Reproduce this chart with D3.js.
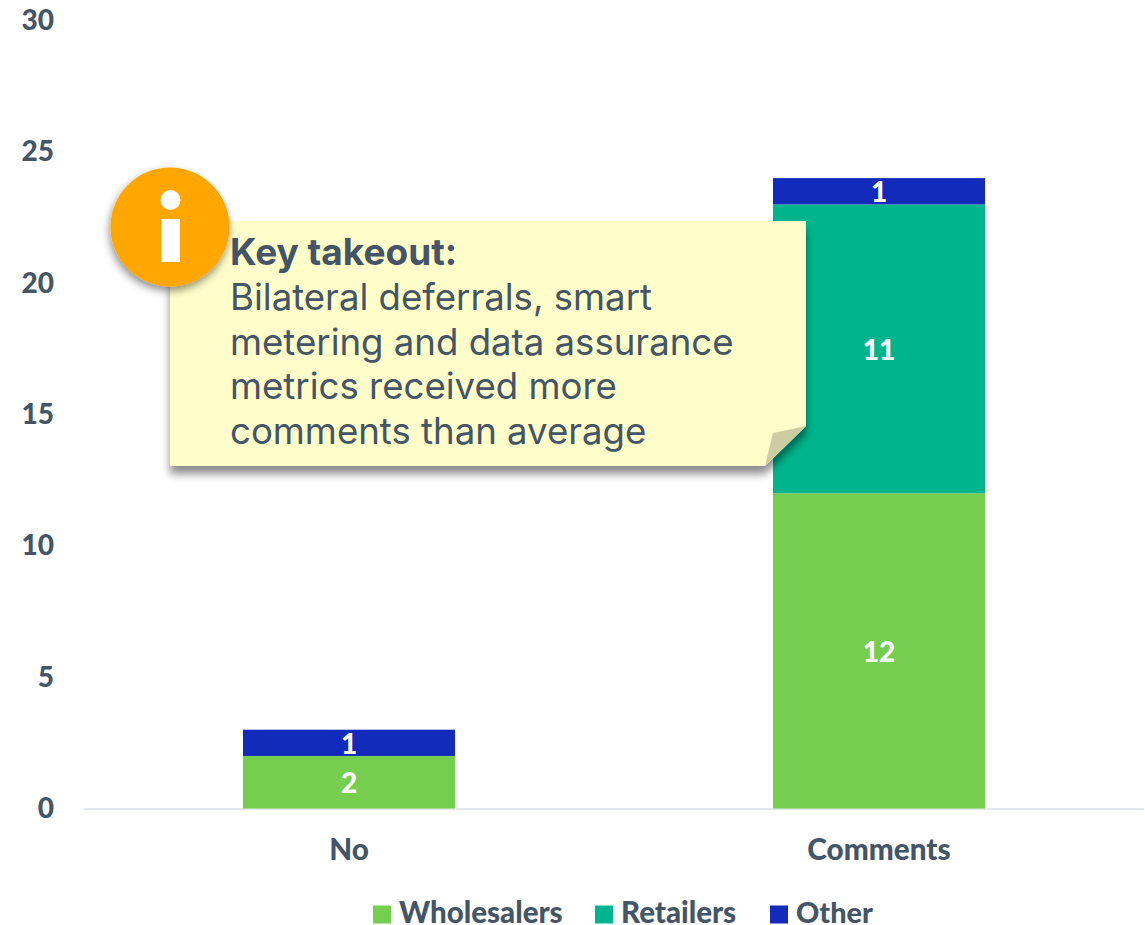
<!DOCTYPE html>
<html>
<head>
<meta charset="utf-8">
<script src="https://cdn.jsdelivr.net/npm/d3@7"></script>
<style>
html,body{margin:0;padding:0;background:#fff;overflow:hidden}
svg{display:block}
text{font-family:Lato,sans-serif}
</style>
</head>
<body>
<svg id="chart" width="1145" height="925"></svg>
<script>
const categories = ["No", "Comments"];
const seriesNames = ["Wholesalers", "Retailers", "Other"];
const wholesalers = [2, 12];
const retailers = [0, 11];
const other = [1, 1];
const yTicks = [0, 5, 10, 15, 20, 25, 30];
const calloutHeading = "Key takeout:";
const calloutLines = [
  "Bilateral deferrals, smart",
  "metering and data assurance",
  "metrics received more",
  "comments than average"
];

const palette = ["#76CE4F", "#00B58D", "#132BBA"];
const ink = "#435566";
const noteFont = "Inter,sans-serif";
const svg = d3.select("#chart");

const x = d3.scaleBand().domain(categories).range([84, 1144]).paddingInner(0.6).paddingOuter(0.3);
const y = d3.scaleLinear().domain([0, 30]).range([808.5, 20.5]);

// Stacked bars
const rows = categories.map((c, i) => ({
  category: c,
  Wholesalers: wholesalers[i],
  Retailers: retailers[i],
  Other: other[i]
}));
const stacked = d3.stack().keys(seriesNames)(rows);

// Baseline
svg.append("line")
  .attr("x1", 84).attr("x2", 1144)
  .attr("y1", 809).attr("y2", 809)
  .attr("stroke", "#E2E8EE").attr("stroke-width", 2);

const layers = svg.append("g").selectAll("g").data(stacked).join("g")
  .attr("fill", (d, i) => palette[i]);

layers.selectAll("rect").data(d => d.map(s => ({s, key: d.key}))).join("rect")
  .attr("x", d => x(d.s.data.category))
  .attr("width", x.bandwidth())
  .attr("y", d => y(d.s[1]))
  .attr("height", d => y(d.s[0]) - y(d.s[1]));

// Value labels inside the segments
layers.selectAll("text").data(d => d.map(s => ({s, key: d.key})).filter(v => v.s[1] > v.s[0])).join("text")
  .attr("x", d => x(d.s.data.category) + x.bandwidth() / 2)
  .attr("y", d => (y(d.s[0]) + y(d.s[1])) / 2 + 1)
  .attr("dy", "0.35em")
  .attr("text-anchor", "middle")
  .attr("fill", "#fff")
  .attr("font-size", 28)
  .attr("font-weight", 900)
  .text(d => d.s[1] - d.s[0]);

// Value axis labels
const yAxis = d3.axisLeft(y).tickValues(yTicks).tickSize(0).tickPadding(0);
const yG = svg.append("g").attr("transform", "translate(54,0)").call(yAxis);
yG.select(".domain").remove();
yG.selectAll("text")
  .attr("font-size", 28).attr("font-weight", 900).attr("fill", ink)
  .style("font-family", "Lato,sans-serif");

// Category axis labels
const xAxis = d3.axisBottom(x).tickSize(0).tickPadding(0);
const xG = svg.append("g").attr("transform", "translate(0,839)").call(xAxis);
xG.select(".domain").remove();
xG.selectAll("text")
  .attr("font-size", 29.7).attr("font-weight", 900).attr("fill", ink)
  .style("font-family", "Lato,sans-serif");

// Legend
const legendSwatchX = [373, 595, 770];
const legendSizes = [29.5, 29.5, 28.8];
const legendG = svg.append("g");
seriesNames.forEach((name, i) => {
  legendG.append("rect")
    .attr("x", legendSwatchX[i]).attr("y", 905.5)
    .attr("width", 18).attr("height", 18)
    .attr("fill", palette[i]);
  legendG.append("text")
    .attr("x", legendSwatchX[i] + 26).attr("y", 923)
    .attr("font-size", legendSizes[i]).attr("font-weight", 900).attr("fill", ink)
    .text(name);
});

// Sticky-note callout
const defs = svg.append("defs");
const noteShadow = defs.append("filter").attr("id", "noteShadow")
  .attr("x", "-10%").attr("y", "-10%").attr("width", "120%").attr("height", "125%");
noteShadow.append("feDropShadow")
  .attr("dx", 0).attr("dy", 8).attr("stdDeviation", 4)
  .attr("flood-color", "#000").attr("flood-opacity", 0.45);
const discShadow = defs.append("filter").attr("id", "discShadow")
  .attr("x", "-20%").attr("y", "-20%").attr("width", "140%").attr("height", "140%");
discShadow.append("feDropShadow")
  .attr("dx", -1).attr("dy", 4).attr("stdDeviation", 4)
  .attr("flood-color", "#000").attr("flood-opacity", 0.45);

const notePath = d3.path();
notePath.moveTo(170, 221);
notePath.lineTo(806, 221);
notePath.lineTo(806, 426);
notePath.lineTo(765, 466);
notePath.lineTo(170, 466);
notePath.closePath();
svg.append("path").attr("d", notePath.toString())
  .attr("fill", "#FFFDC9").attr("filter", "url(#noteShadow)");

const foldPath = d3.path();
foldPath.moveTo(806, 426);
foldPath.lineTo(773, 433);
foldPath.lineTo(765, 466);
foldPath.closePath();
svg.append("path").attr("d", foldPath.toString()).attr("fill", "#CECCA2");

const noteText = svg.append("g").attr("fill", ink);
noteText.append("text")
  .attr("x", 230).attr("y", 265)
  .attr("font-size", 37).attr("font-weight", 700)
  .style("font-family", noteFont)
  .text(calloutHeading);
noteText.selectAll("text.body").data(calloutLines).join("text")
  .attr("class", "body")
  .attr("x", 230)
  .attr("y", (d, i) => 310 + i * 44.7)
  .attr("font-size", 36.6)
  .style("font-family", noteFont)
  .text(d => d);

// Information badge
const badge = svg.append("g");
badge.append("circle")
  .attr("cx", 170).attr("cy", 227).attr("r", 59.5)
  .attr("fill", "#FFA600").attr("filter", "url(#discShadow)");
badge.append("circle").attr("cx", 170.5).attr("cy", 200).attr("r", 10).attr("fill", "#fff");
badge.append("rect").attr("x", 161.3).attr("y", 219).attr("width", 18.7).attr("height", 43).attr("fill", "#fff");
</script>
</body>
</html>
